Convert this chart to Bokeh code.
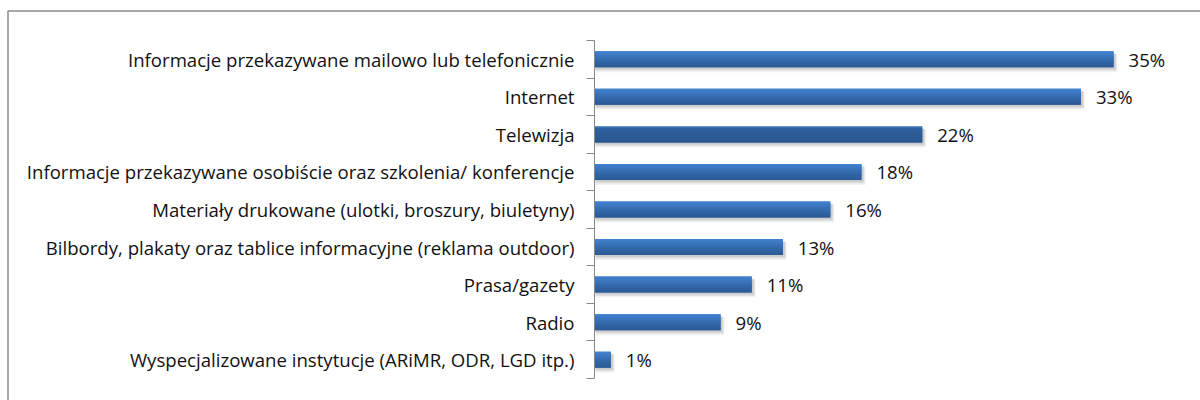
from bokeh.plotting import figure
from bokeh.models import Range1d, FixedTicker, ColumnDataSource
from bokeh.core.properties import value
from bokeh.embed import file_html
from bokeh.resources import INLINE

categories = [
    "Informacje przekazywane mailowo lub telefonicznie",
    "Internet",
    "Telewizja",
    "Informacje przekazywane osobiście oraz szkolenia/ konferencje",
    "Materiały drukowane (ulotki, broszury, biuletyny)",
    "Bilbordy, plakaty oraz tablice informacyjne (reklama outdoor)",
    "Prasa/gazety",
    "Radio",
    "Wyspecjalizowane instytucje (ARiMR, ODR, LGD itp.)",
]
values = [35.0, 32.8, 22.1, 18.0, 15.9, 12.7, 10.6, 8.5, 1.1]
value_labels = ["35%", "33%", "22%", "18%", "16%", "13%", "11%", "9%", "1%"]

n = len(categories)
ys = [n - 1 - i for i in range(n)]

FONT = "Open Sans"
FSIZE = "18.6px"
PX_X = 14.83          # pixels per percent
PX_Y = 338.0 / n      # pixels per category band
AX_PX = 594           # axis position in pixels
TOP_PX = 40           # top of category area in pixels
BOT_PX = 378

x_start = -AX_PX / PX_X
x_end = (1200 - AX_PX) / PX_X
y_end = (n - 0.5) + TOP_PX / PX_Y
y_start = -0.5 - (400 - BOT_PX) / PX_Y

p = figure(width=1200, height=400, output_backend="svg", toolbar_location=None,
           x_range=Range1d(x_start, x_end), y_range=Range1d(y_start, y_end),
           min_border=0, min_border_left=0, min_border_right=0,
           min_border_top=0, min_border_bottom=0)
p.outline_line_color = None
p.background_fill_color = "white"
p.border_fill_color = "white"
p.xgrid.visible = False
p.ygrid.visible = False
p.xaxis.visible = False

src = ColumnDataSource(dict(y=ys, v=values, lab=value_labels))

bar_h = 16 / PX_Y
ux = 1 / PX_X
uy = 1 / PX_Y

# soft shadow (offset down/right)
for off, grow, a in [(4, 2, 0.05), (3, 1, 0.07), (2, 0, 0.09)]:
    p.hbar(y=[y - off * uy for y in ys], left=ux, right=[v + off * ux for v in values],
           height=bar_h + grow * uy, fill_color="#000000", fill_alpha=a, line_color=None)

# bar body with vertical gradient (top -> bottom)
normal = ["#4182cf", "#3d7bc6", "#3a75bd", "#376fb5", "#3469ac", "#3164a5", "#2e5f9e", "#2c5a97"]
dark = ["#3b74ba", "#2f609e", "#2e5e9b", "#2d5c98", "#2d5b96", "#2c5a95", "#2b5893", "#2a5690"]
base_cols = ["#2c5c98" if c == "Telewizja" else "#3670b3" for c in categories]
p.hbar(y=ys, left=0, right=values, height=bar_h, fill_color=base_cols, line_color=None)
k = len(normal)
sh = bar_h / k
for j in range(k):
    cy = [y + bar_h / 2 - sh * (j + 0.5) for y in ys]
    cols = [dark[j] if c == "Telewizja" else normal[j] for c in categories]
    hh = sh * (1.0 if j in (0, k - 1) else 1.4)
    p.hbar(y=cy, left=0, right=values, height=hh, fill_color=cols, line_color=None)

p.text(x="v", y="y", text="lab", source=src, x_offset=15,
       text_baseline="middle", text_align="left",
       text_font=value(FONT), text_font_size=FSIZE, text_color="#111111")

ax = p.yaxis[0]
ax.fixed_location = 0
ax.ticker = FixedTicker(ticks=ys, minor_ticks=[y + 0.5 for y in range(-1, n)])
ax.major_label_overrides = {y: c for y, c in zip(ys, categories)}
ax.bounds = (-0.5, n - 0.5)
ax.axis_line_color = "#868686"
ax.axis_line_width = 1
ax.major_tick_line_color = None
ax.major_tick_in = 0
ax.major_tick_out = 0
ax.minor_tick_line_color = "#868686"
ax.minor_tick_in = 0
ax.minor_tick_out = 8
ax.major_label_standoff = 12
ax.major_label_text_font = FONT
ax.major_label_text_font_size = FSIZE
ax.major_label_text_color = "#111111"

# outer chart border (only its left and top edges fall inside the window)
bx = (7.5 - AX_PX) / PX_X
by = (n - 0.5) + (TOP_PX - 10.5) / PX_Y
p.line(x=[bx, bx, x_end + 1], y=[y_start - 1, by, by],
       line_color="#8c8c8c", line_width=1.5)

open("out.html", "w").write(file_html(p, INLINE))
